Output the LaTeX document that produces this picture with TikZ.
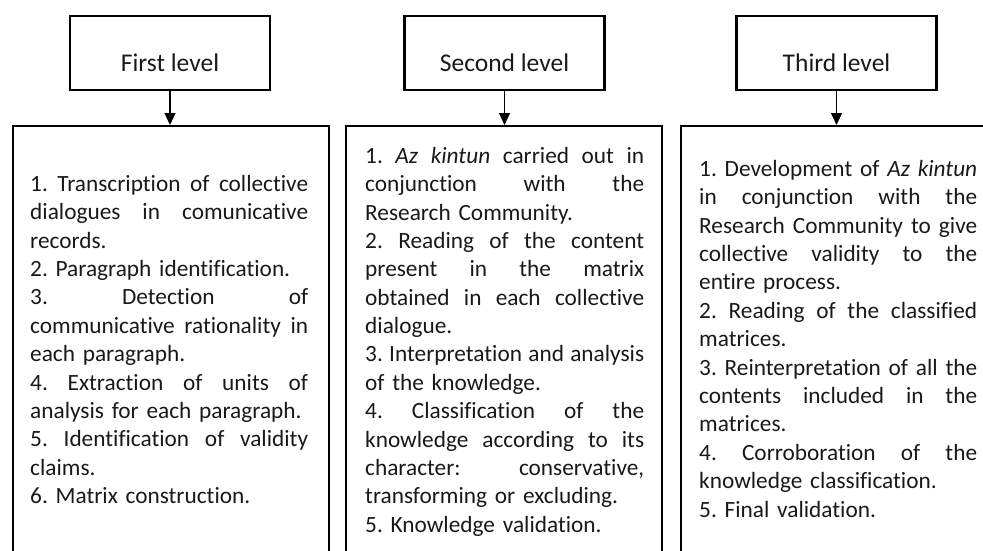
\documentclass[tikz,border=0pt]{standalone}
\usepackage{fontspec}
\setmainfont{Carlito}[Ligatures=NoCommon]
\usetikzlibrary{arrows.meta}
\setlength{\parindent}{0pt}
\newcommand{\jl}[1]{\makebox[\hsize][s]{\spaceskip=0.226em plus 1fil\relax #1}}
\newcommand{\fs}{\rule{0pt}{20pt}}
\begin{document}
\begin{tikzpicture}[x=1pt,y=-1pt,
  titlebox/.style={draw,line width=2.3pt,inner sep=0pt,text height=55pt,text depth=19pt,
    minimum width=200pt,anchor=north,font=\fontsize{25.5}{30}\selectfont,text=black!90},
  listbox/.style={draw,line width=2.3pt,inner sep=0pt,minimum width=316pt,minimum height=450pt,anchor=north west},
  listtext/.style={inner sep=0pt,anchor=north west,align=left,text=black!90,
    font=\fontsize{23.3}{28.4}\selectfont\frenchspacing},
  arr/.style={line width=1.2pt,-{Triangle[length=12pt,width=11pt]}}]
\useasboundingbox (0,0) rectangle (983,551);
\clip (0,0) rectangle (983,551);
% title boxes
\node[titlebox] (t1) at (170,15) {First level};
\node[titlebox] (t2) at (504.5,15) {Second level};
\node[titlebox] (t3) at (836.5,15) {Third level};
% list boxes
\node[listbox] (b1) at (12,125) {};
\node[listbox] (b2) at (345,125) {};
\node[listbox] (b3) at (680,125) {};
% arrows
\draw[arr] (t1.south) -- (t1.south |- b1.north);
\draw[arr] (t2.south) -- (t2.south |- b2.north);
\draw[arr] (t3.south) -- (t3.south |- b3.north);
% texts
\node[listtext,text width=278pt] (x1) at (30,171) {%
\fs\jl{1. Transcription of collective}\\
\jl{dialogues in comunicative}\\
records.\\
2. Paragraph identification.\\
\jl{3. Detection of}\\
\jl{communicative rationality in}\\
each paragraph.\\
\jl{4. Extraction of units of}\\
analysis for each paragraph.\\
\jl{5. Identification of validity}\\
claims.\\
6. Matrix construction.};
\node[listtext,text width=279pt] (x2) at (365,143) {%
\fs\jl{1. \textit{Az kintun} carried out in}\\
\jl{conjunction with the}\\
Research Community.\\
\jl{2. Reading of the content}\\
\jl{present in the matrix}\\
\jl{obtained in each collective}\\
dialogue.\\
\jl{3. Interpretation and analysis}\\
of the knowledge.\\
\jl{4. Classification of the}\\
\jl{knowledge according to its}\\
\jl{character: conservative,}\\
transforming or excluding.\\
5. Knowledge validation.};
\node[listtext,text width=278pt] (x3) at (699,156) {%
\fs\jl{1. Development of \textit{Az kintun}}\\
\jl{in conjunction with the}\\
\jl{Research Community to give}\\
\jl{collective validity to the}\\
entire process.\\
\jl{2. Reading of the classified}\\
matrices.\\
\jl{3. Reinterpretation of all the}\\
\jl{contents included in the}\\
matrices.\\
\jl{4. Corroboration of the}\\
knowledge classification.\\
5. Final validation.};
\end{tikzpicture}
\end{document}
